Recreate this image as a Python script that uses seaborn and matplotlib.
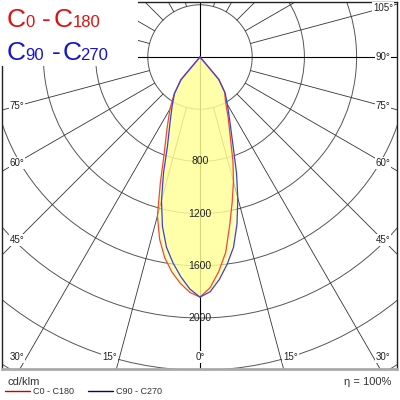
import numpy as np
import pandas as pd
import matplotlib.pyplot as plt
import seaborn as sns
from matplotlib.patches import Circle, Rectangle
from matplotlib.lines import Line2D

# angulos gamma (graus a partir do nadir) e intensidades em cd/klm
gamma = [0, 2.5, 5, 7.5, 10, 12.5, 15, 17.5, 20, 25, 30, 35, 40, 45]
c0 = [1840, 1770, 1650, 1510, 1310, 1140, 990, 840, 690, 510, 390, 330, 220, 0]
c180 = [1840, 1805, 1740, 1660, 1560, 1430, 1260, 1010, 810, 595, 460, 345, 230, 0]
c90 = [1840, 1800, 1710, 1600, 1480, 1310, 1120, 930, 750, 540, 420, 335, 225, 0]
c270 = [1840, 1780, 1690, 1590, 1480, 1330, 1140, 930, 730, 540, 425, 340, 225, 0]

rings = [400, 800, 1200, 1600, 2000, 2400, 2800, 3200]
ring_labels = [800, 1200, 1600, 2000]
right_angles = [105, 90, 75, 60, 45, 30, 15, 0]
left_angles = [75, 60, 45, 30, 15]

sns.set_theme(style="white")
plt.rcParams["font.family"] = ["Liberation Sans", "DejaVu Sans"]

fig = plt.figure(figsize=(4, 4), dpi=100)
ax = fig.add_axes([2 / 400, 31 / 400, 395 / 400, 367 / 400])
s = 400 / 52.2  # cd/klm por pixel
ax.set_xlim(-198 * s, 197 * s)
ax.set_ylim(-(369 - 57) * s, (57 - 2) * s)
ax.set_xticks([])
ax.set_yticks([])
for side in ["left", "right", "top"]:
    ax.spines[side].set_color("#222222")
    ax.spines[side].set_linewidth(1.0)
ax.spines["bottom"].set_color("#aaaaaa")
ax.spines["bottom"].set_linewidth(2.0)

# grade polar
for r in rings:
    ax.add_patch(Circle((0, 0), r, fill=False, ec="#555555", lw=0.7, zorder=1))
for a in range(0, 360, 15):
    t = np.radians(a)
    r0 = 0 if a % 90 == 0 else 400
    col = "black" if a % 90 == 0 else "#333333"
    ax.plot([r0 * np.sin(t), 4000 * np.sin(t)], [-r0 * np.cos(t), -4000 * np.cos(t)],
            color=col, lw=0.8 if a % 90 == 0 else 0.6, zorder=1)


def curve(left, right):
    g = np.radians(gamma)
    xl = -np.array(left) * np.sin(g)
    yl = -np.array(left) * np.cos(g)
    xr = np.array(right) * np.sin(g)
    yr = -np.array(right) * np.cos(g)
    return pd.DataFrame({"x": np.concatenate([xl[::-1], xr[1:]]),
                         "y": np.concatenate([yl[::-1], yr[1:]])})


red = curve(c180, c0)
blue = curve(c270, c90)
for df in [red, blue]:
    ax.fill(df["x"], df["y"], color="#ffff99", alpha=0.6, lw=0, zorder=2)
sns.lineplot(data=red, x="x", y="y", sort=False, estimator=None, color="#f04a30", lw=0.9, ax=ax, zorder=3)
sns.lineplot(data=blue, x="x", y="y", sort=False, estimator=None, color="#4040d0", lw=0.9, ax=ax, zorder=3)
ax.set_xlabel("")
ax.set_ylabel("")

for v in ring_labels:
    ax.text(0, -v, str(v), ha="center", va="center", fontsize=7.5, color="#222222", zorder=4)

# rotulos dos angulos
box = dict(facecolor="white", edgecolor="none", pad=0.6)


def angle_label(a, sign):
    t = np.radians(a)
    if a > 0 and 183 / np.tan(t) <= 300:
        x, y = 183, -183 / np.tan(t)
    else:
        x, y = 300 * np.tan(t) + (10 if a > 0 else 0), -300
    ax.text(sign * x * s, y * s, f"{a}°", ha="center", va="center", fontsize=7,
            color="#222222", bbox=box, zorder=4)


for a in right_angles:
    angle_label(a, 1)
for a in left_angles:
    angle_label(a, -1)

# caixa do titulo
ax.add_patch(Rectangle((0, 1 - 66 / 400), 138 / 400, 66 / 400, transform=fig.transFigure,
                       facecolor="white", edgecolor="none", zorder=5, clip_on=False))


def px(x, y):
    return x / 400, 1 - y / 400


red_c = "#e01010"
blue_c = "#1414d2"
for txt, x, size in [("C", 7, 19), ("0", 25.5, 12), ("-", 42, 19), ("C", 54, 19), ("180", 72.5, 12)]:
    fig.text(*px(x, 27), txt, fontsize=size, color=red_c, va="baseline", ha="left", zorder=6)
for txt, x, size in [("C", 7, 19), ("90", 25.5, 12), ("-", 52, 19), ("C", 63, 19), ("270", 80.5, 12)]:
    fig.text(*px(x, 60), txt, fontsize=size, color=blue_c, va="baseline", ha="left", zorder=6)

# rodape
fig.text(*px(8, 385), "cd/klm", fontsize=8, color="#333333", va="baseline")
fig.text(*px(391, 385), "η = 100%", fontsize=8, color="#333333", va="baseline", ha="right")
fig.add_artist(Line2D([5 / 400, 30 / 400], [1 - 391 / 400] * 2, color="#cc0000", lw=1))
fig.text(*px(33, 391), "C0 - C180", fontsize=6.5, color="#333333", va="center")
fig.add_artist(Line2D([88 / 400, 113 / 400], [1 - 391 / 400] * 2, color="#000080", lw=1))
fig.text(*px(116, 391), "C90 - C270", fontsize=6.5, color="#333333", va="center")

plt.savefig("out.png", dpi=100)
plt.close()
